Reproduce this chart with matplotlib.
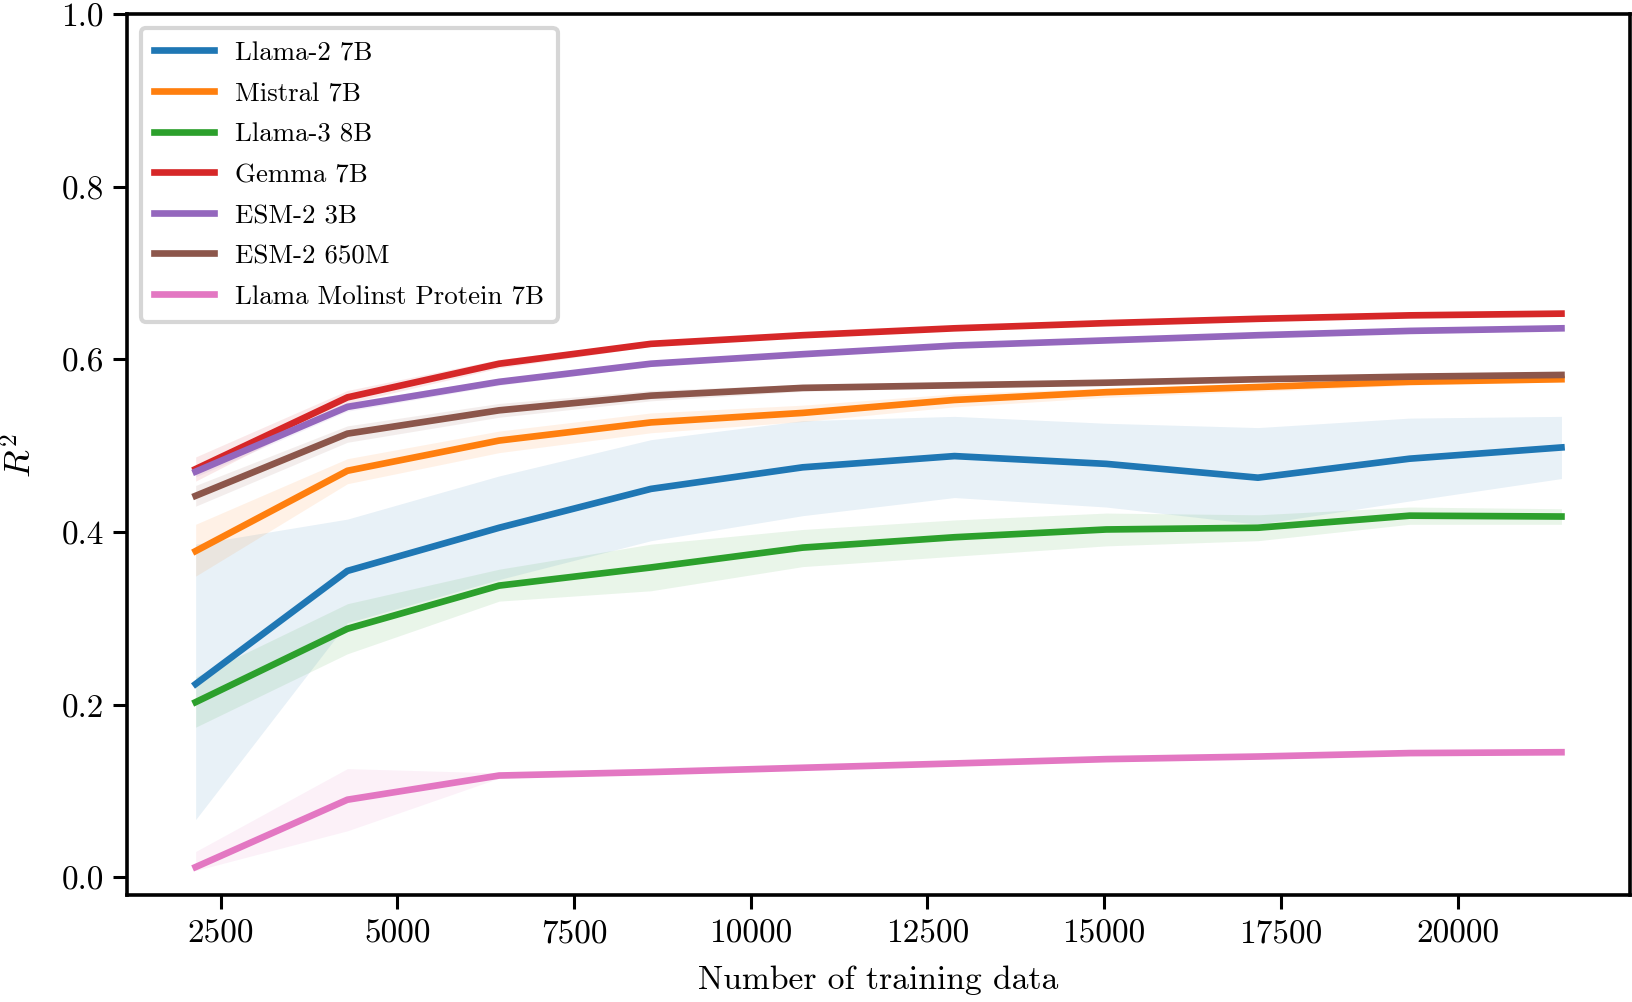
import matplotlib
matplotlib.use("Agg")
import matplotlib.pyplot as plt
import numpy as np

plt.rcParams['font.family'] = 'serif'
plt.rcParams['font.serif'] = ['cmr10']
plt.rcParams['mathtext.fontset'] = 'cm'
plt.rcParams['axes.formatter.use_mathtext'] = True

# number of training samples (10%, 20%, ... 100% of the set)
n_train = [2147, 4294, 6441, 8588, 10735, 12882, 15029, 17176, 19323, 21470]

models = ['Llama-2 7B', 'Mistral 7B', 'Llama-3 8B', 'Gemma 7B',
          'ESM-2 3B', 'ESM-2 650M', 'Llama Molinst Protein 7B']

llama2_mean = [0.224, 0.355, 0.405, 0.450, 0.475, 0.488, 0.479, 0.463, 0.485, 0.498]
llama2_low = [0.067, 0.295, 0.345, 0.390, 0.419, 0.440, 0.429, 0.409, 0.436, 0.462]
llama2_high = [0.386, 0.415, 0.465, 0.507, 0.529, 0.534, 0.526, 0.521, 0.532, 0.534]

mistral_mean = [0.378, 0.471, 0.506, 0.527, 0.538, 0.553, 0.562, 0.568, 0.574, 0.577]
mistral_low = [0.349, 0.456, 0.492, 0.515, 0.528, 0.545, 0.556, 0.563, 0.570, 0.574]
mistral_high = [0.409, 0.485, 0.517, 0.538, 0.547, 0.560, 0.567, 0.572, 0.577, 0.580]

llama3_mean = [0.203, 0.288, 0.338, 0.359, 0.382, 0.394, 0.403, 0.405, 0.419, 0.418]
llama3_low = [0.174, 0.259, 0.320, 0.332, 0.360, 0.372, 0.384, 0.390, 0.409, 0.409]
llama3_high = [0.232, 0.317, 0.357, 0.386, 0.403, 0.414, 0.422, 0.420, 0.429, 0.427]

gemma_mean = [0.473, 0.556, 0.595, 0.618, 0.628, 0.636, 0.642, 0.647, 0.651, 0.653]
gemma_low = [0.459, 0.549, 0.590, 0.615, 0.626, 0.634, 0.640, 0.645, 0.649, 0.651]
gemma_high = [0.487, 0.564, 0.600, 0.621, 0.630, 0.638, 0.644, 0.649, 0.653, 0.655]

esm3b_mean = [0.470, 0.545, 0.574, 0.595, 0.606, 0.616, 0.622, 0.628, 0.633, 0.636]
esm3b_low = [0.464, 0.540, 0.570, 0.592, 0.604, 0.614, 0.620, 0.626, 0.631, 0.634]
esm3b_high = [0.476, 0.550, 0.578, 0.598, 0.608, 0.618, 0.624, 0.630, 0.635, 0.638]

esm650_mean = [0.442, 0.514, 0.541, 0.558, 0.567, 0.570, 0.573, 0.577, 0.580, 0.582]
esm650_low = [0.430, 0.504, 0.533, 0.552, 0.563, 0.567, 0.571, 0.575, 0.578, 0.580]
esm650_high = [0.454, 0.523, 0.549, 0.564, 0.571, 0.573, 0.575, 0.579, 0.582, 0.584]

molinst_mean = [0.012, 0.090, 0.118, 0.122, 0.127, 0.132, 0.137, 0.140, 0.144, 0.145]
molinst_low = [0.008, 0.054, 0.115, 0.120, 0.125, 0.130, 0.135, 0.138, 0.142, 0.143]
molinst_high = [0.030, 0.126, 0.121, 0.124, 0.129, 0.134, 0.139, 0.142, 0.146, 0.147]

means = [llama2_mean, mistral_mean, llama3_mean, gemma_mean, esm3b_mean, esm650_mean, molinst_mean]
lows = [llama2_low, mistral_low, llama3_low, gemma_low, esm3b_low, esm650_low, molinst_low]
highs = [llama2_high, mistral_high, llama3_high, gemma_high, esm3b_high, esm650_high, molinst_high]
colors = ['#1f77b4', '#ff7f0e', '#2ca02c', '#d62728', '#9467bd', '#8c564b', '#e377c2']

fig = plt.figure(figsize=(8.165, 5.015), dpi=200)
ax = fig.add_axes([0.078, 0.107, 0.92, 0.878])

for i in range(0, len(models)):
    ax.fill_between(n_train, lows[i], highs[i], color=colors[i], alpha=0.1, linewidth=0)
    ax.plot(n_train, means[i], color=colors[i], linewidth=2.4, label=models[i])

ax.set_xlim(1181, 22436)
ax.set_ylim(-0.02, 1.0)
ax.set_xticks([2500, 5000, 7500, 10000, 12500, 15000, 17500, 20000])
ax.set_yticks([0.0, 0.2, 0.4, 0.6, 0.8, 1.0])
ax.set_yticklabels(['0.0', '0.2', '0.4', '0.6', '0.8', '1.0'])
ax.set_xticklabels(['2500', '5000', '7500', '10000', '12500', '15000', '17500', '20000'])
ax.tick_params(labelsize=12, length=5, width=1.1)
for s in ax.spines.values():
    s.set_linewidth(1.3)

ax.set_xlabel('Number of training data', fontsize=12.1, labelpad=6)
ax.set_ylabel('$R^2$', fontsize=13, labelpad=8)

leg = ax.legend(loc='upper left', fontsize=9.7, handlelength=2.2, labelspacing=0.62, borderpad=0.5)
leg.get_frame().set_linewidth(1.5)

fig.savefig('out.png', dpi=200)
